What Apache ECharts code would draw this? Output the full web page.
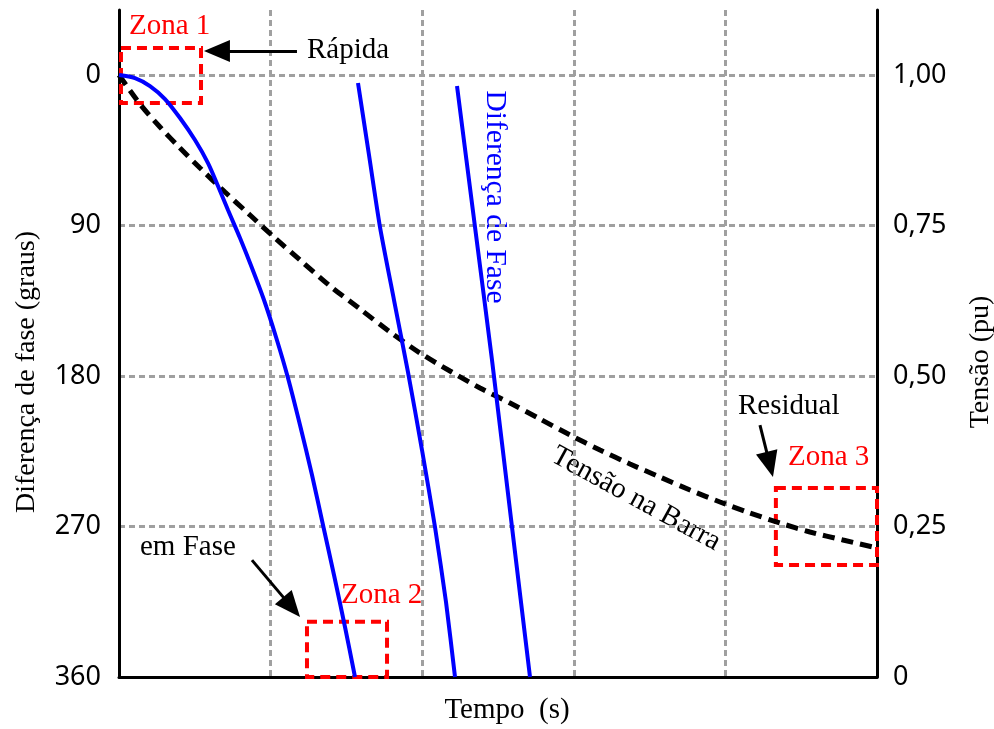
<!DOCTYPE html>
<html>
<head>
<meta charset="utf-8">
<script src="https://cdn.jsdelivr.net/npm/echarts@6/dist/echarts.min.js"></script>
<style>
  html, body { margin: 0; padding: 0; background: #ffffff; }
  #chart { width: 994px; height: 729px; }
</style>
</head>
<body>
<div id="chart"></div>
<script>
// Axis ticks
const phaseTicks = [0, 90, 180, 270, 360];
const voltageTicks = [0, 0.25, 0.5, 0.75, 1];
const voltageTickLabels = ['0', '0,25', '0,50', '0,75', '1,00'];

// Phase difference (degrees) versus time, fast transfer curve
const fastTime  = [0, 0.1055, 0.2045, 0.3034, 0.4024, 0.5013, 0.5871, 0.6530, 0.7190, 0.7982, 0.8773, 0.9565, 1.0356, 1.1148, 1.1939, 1.2731, 1.3456, 1.4182, 1.4908, 1.5567];
const fastPhase = [0, 1.79, 6.58, 14.35, 25.71, 38.87, 52.63, 66.38, 80.73, 97.48, 115.42, 134.55, 156.68, 181.20, 209.31, 239.21, 269.11, 299.01, 330.10, 360];

// Second phase difference sweep
const secondTime  = [1.5765, 1.6491, 1.7216, 1.8140, 1.9063, 1.9987, 2.0844, 2.1570, 2.2164];
const secondPhase = [4.78, 47.84, 90.90, 134.55, 177.61, 224.26, 270.30, 315.15, 360];

// Third phase difference sweep
const thirdTime  = [2.2296, 2.3483, 2.4604, 2.5923, 2.7111];
const thirdPhase = [6.58, 90.90, 170.43, 270.30, 360];

// Bus voltage decay (pu)
const busTime    = [0, 0.1385, 0.2704, 0.4024, 0.5343, 0.6992, 0.8641, 1.0290, 1.1939, 1.3918, 1.5897, 1.7876, 1.9855, 2.1834, 2.3813, 2.5792, 2.7770, 2.9749, 3.1728, 3.3707, 3.5686, 3.7665, 3.9644, 4.1623, 4.3602, 4.5580, 4.7757, 5.0];
const busVoltage = [1.0, 0.9518, 0.9136, 0.8787, 0.8455, 0.8056, 0.7674, 0.7292, 0.6927, 0.6495, 0.6113, 0.5731, 0.5382, 0.5083, 0.4801, 0.4551, 0.4286, 0.4020, 0.3771, 0.3538, 0.3322, 0.3106, 0.2907, 0.2724, 0.2558, 0.2409, 0.2276, 0.2143];

// Highlighted zones: [time from, time to, phase from, phase to]
const zone1 = [0.013, 0.541, -16.1, 16.7];
const zone2 = [1.240, 1.768, 327.0, 360.0];
const zone3 = [4.333, 5.0, 247.0, 293.0];

// Pointer arrows: [time from, phase from, time to, phase to]
const arrowFast     = [1.174, -14.35, 0.646, -14.35];
const arrowInPhase  = [0.877, 290.1, 1.139, 318.2];
const arrowResidual = [4.228, 209.3, 4.293, 232.9];

const zip = (xs, ys) => xs.map((x, i) => [x, ys[i]]);

const SERIF = '"Liberation Serif", "Times New Roman", serif';
const SANS = '"Noto Sans", sans-serif';
const GRID_GRAY = '#a0a0a0';
const BLUE = '#0000ff';
const RED = '#ff0000';

const chart = echarts.init(document.getElementById('chart'), null, { renderer: 'canvas' });

const zoneArea = z => [{ coord: [z[0], z[2]] }, { coord: [z[1], z[3]] }];
const arrowLine = a => [{ coord: [a[0], a[1]] }, { coord: [a[2], a[3]] }];

const blueLine = { color: BLUE, width: 4 };

const label = (text, x, y, color, extra) => Object.assign({
  type: 'text', x, y,
  style: { text, font: '29px ' + SERIF, fill: color, align: 'left', verticalAlign: 'middle' }
}, extra || {});

const option = {
  animation: false,
  backgroundColor: '#ffffff',
  grid: { left: 119, right: 117, top: 10, bottom: 52, containLabel: false },
  xAxis: {
    type: 'value',
    min: 0, max: 5, interval: 1,
    axisLine: { show: true, onZero: false, lineStyle: { color: '#000', width: 3 } },
    axisTick: { show: false },
    axisLabel: { show: false },
    splitLine: { show: true, lineStyle: { color: GRID_GRAY, width: 3, type: [6, 4] } }
  },
  yAxis: [
    {
      type: 'value',
      position: 'left',
      inverse: true,
      min: -38.9, max: 360,
      axisLine: { show: true, onZero: false, lineStyle: { color: '#000', width: 3 } },
      axisTick: { show: false, customValues: phaseTicks },
      axisLabel: {
        customValues: phaseTicks,
        margin: 18,
        color: '#000',
        fontFamily: SANS,
        fontSize: 27
      },
      splitLine: { show: true, lineStyle: { color: GRID_GRAY, width: 3, type: [6, 4] } }
    },
    {
      type: 'value',
      position: 'right',
      min: 0, max: 1.108,
      axisLine: { show: true, onZero: false, lineStyle: { color: '#000', width: 3 } },
      axisTick: { show: false, customValues: voltageTicks },
      axisLabel: {
        customValues: voltageTicks,
        margin: 16,
        color: '#000',
        fontFamily: SANS,
        fontSize: 27,
        formatter: v => voltageTickLabels[voltageTicks.indexOf(v)] ?? ''
      },
      splitLine: { show: false }
    }
  ],
  series: [
    {
      name: 'Tensão na Barra',
      type: 'line',
      yAxisIndex: 1,
      data: zip(busTime, busVoltage),
      showSymbol: false,
      smooth: 0.3,
      lineStyle: { color: '#000', width: 5, type: [12, 7], cap: 'butt' },
      z: 3
    },
    {
      name: 'Diferença de Fase 1',
      type: 'line',
      yAxisIndex: 0,
      data: zip(fastTime, fastPhase),
      showSymbol: false,
      smooth: 0.3,
      lineStyle: blueLine,
      z: 4,
      markArea: {
        silent: true,
        itemStyle: { color: 'rgba(0,0,0,0)', borderColor: RED, borderWidth: 4, borderType: [10, 6] },
        label: { show: false },
        data: [zoneArea(zone1), zoneArea(zone2), zoneArea(zone3)]
      },
      markLine: {
        silent: true,
        symbol: ['none', 'triangle'],
        symbolSize: [22, 26],
        label: { show: false },
        lineStyle: { color: '#000', width: 3, type: 'solid' },
        data: [arrowLine(arrowFast), arrowLine(arrowInPhase), arrowLine(arrowResidual)]
      }
    },
    {
      name: 'Diferença de Fase 2',
      type: 'line',
      yAxisIndex: 0,
      data: zip(secondTime, secondPhase),
      showSymbol: false,
      smooth: 0.2,
      lineStyle: blueLine,
      z: 4
    },
    {
      name: 'Diferença de Fase 3',
      type: 'line',
      yAxisIndex: 0,
      data: zip(thirdTime, thirdPhase),
      showSymbol: false,
      smooth: 0.2,
      lineStyle: blueLine,
      z: 4
    }
  ],
  graphic: [
    { type: 'text', x: 27, y: 372, rotation: Math.PI / 2,
      style: { text: 'Diferença de fase (graus)', font: '28px ' + SERIF, fill: '#000', align: 'center', verticalAlign: 'middle' } },
    { type: 'text', x: 981, y: 362, rotation: Math.PI / 2,
      style: { text: 'Tensão (pu)', font: '28px ' + SERIF, fill: '#000', align: 'center', verticalAlign: 'middle' } },
    { type: 'text', x: 507, y: 710,
      style: { text: 'Tempo  (s)', font: '29px ' + SERIF, fill: '#000', align: 'center', verticalAlign: 'middle' } },
    { type: 'text', x: 495, y: 197, rotation: -Math.PI / 2,
      style: { text: 'Diferença de Fase', font: '29.5px ' + SERIF, fill: BLUE, align: 'center', verticalAlign: 'middle' } },
    { type: 'text', x: 636, y: 499, rotation: -0.5,
      style: { text: 'Tensão na Barra', font: '29px ' + SERIF, fill: '#000', align: 'center', verticalAlign: 'middle' } },
    label('Zona 1', 129, 26, RED),
    label('Rápida', 307, 50, '#000'),
    label('em Fase', 140, 547, '#000'),
    label('Zona 2', 341, 595, RED),
    label('Zona 3', 788, 457, RED),
    label('Residual', 738, 406, '#000')
  ]
};

chart.setOption(option);
</script>
</body>
</html>
